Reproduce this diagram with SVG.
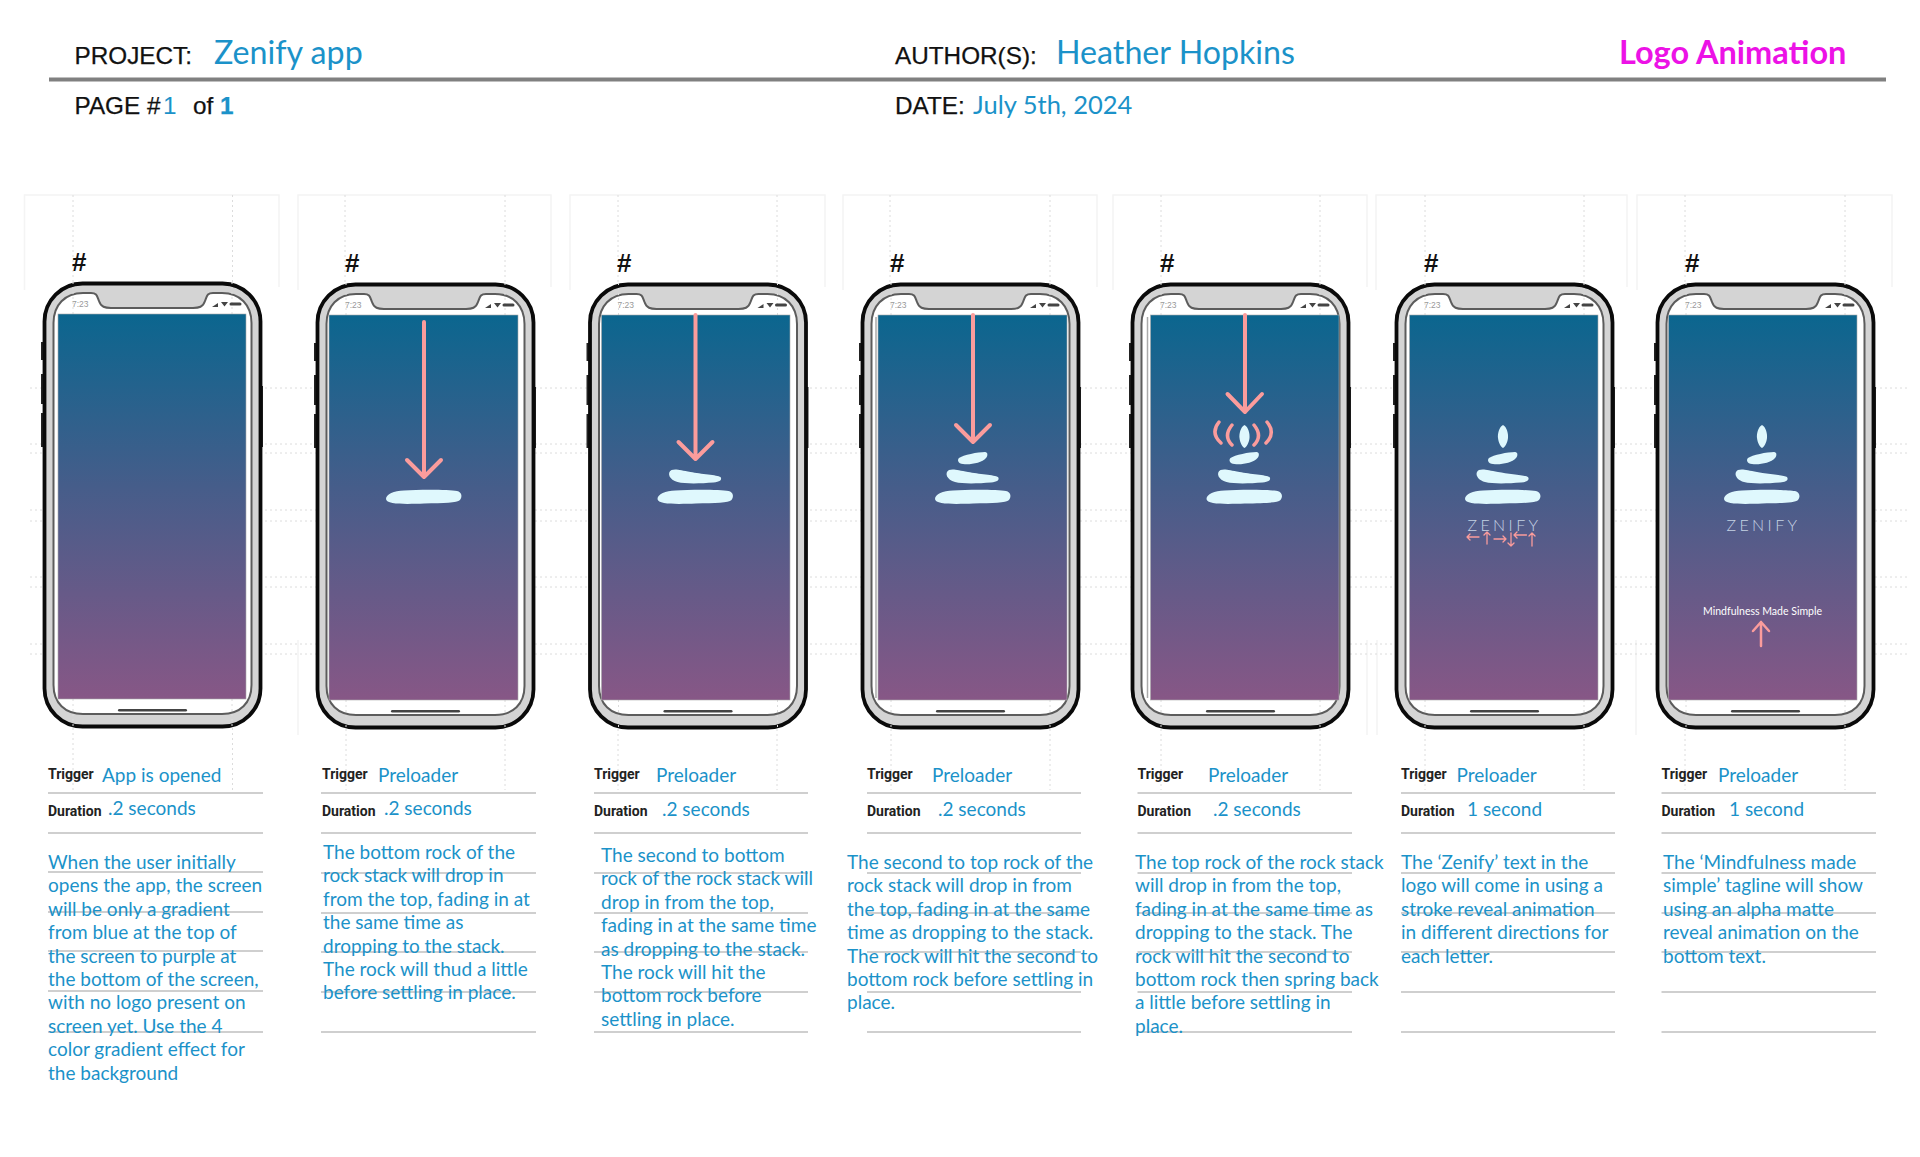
<svg xmlns="http://www.w3.org/2000/svg" xmlns:xlink="http://www.w3.org/1999/xlink" width="1920" height="1157" viewBox="0 0 1920 1157">
<style>
text{font-family:"Lato","Open Sans","Liberation Sans",sans-serif}
.head{font-family:"Liberation Sans",Arial,sans-serif;font-size:24.300px;fill:#111;stroke:#111;stroke-width:.25}
.big{font-size:32.200px;fill:#1b92c9}
.date{font-size:25.500px;fill:#1b92c9}
.val{font-size:19px;fill:#1b92c9}
.lab{font-family:"Roboto","Liberation Sans",sans-serif;font-weight:700;font-size:14px;fill:#222}
.body{font-size:19px;fill:#1b92c9}
.hash{font-family:"Liberation Sans",sans-serif;font-weight:700;font-size:26px;fill:#111}
.rule{stroke:#cfcfcf;stroke-width:2;fill:none}
.dot{stroke:#dcdcdc;stroke-width:1;stroke-dasharray:2 3;fill:none}
.box{stroke:#f4f4f4;stroke-width:1.500;fill:none}
.arrow{stroke:#fb9c9c;fill:none;stroke-linecap:round;stroke-linejoin:round}
.rock{fill:#dff8fd}
.scr{fill:url(#g);stroke:#aaa;stroke-width:.6}
.zen{font-size:16px;letter-spacing:3.400px;fill:#c5d3e4;text-anchor:middle;font-weight:300}
</style>
<defs>
<linearGradient id="g" x1="0" y1="0" x2="0" y2="1">
<stop offset="0" stop-color="#0b668f"/>
<stop offset="0.45" stop-color="#465d8a"/>
<stop offset="1" stop-color="#875786"/>
</linearGradient>
<g id="phone">
<rect x="-2" y="60" width="4" height="18" fill="#222"/>
<rect x="-2" y="92" width="4" height="30" fill="#222"/>
<rect x="-2" y="131" width="4" height="34" fill="#222"/>
<rect x="216" y="104" width="4" height="61" fill="#222"/>
<rect x="1.500" y="1.500" width="216" height="443" rx="38" fill="#d4d4d4" stroke="#0a0a0a" stroke-width="3.800"/>
<path d="M40,11H48C54,11 54,14 56,19C58,25 62,26 68,26H150C156,26 160,25 162,19C164,14 164,11 170,11H179C197,11 208.500,23 208.500,41V403C208.500,421 197,432 179,432H40C22,432 10.500,421 10.500,403V41C10.500,23 22,11 40,11Z" fill="#fff" stroke="#5c5c5c" stroke-width="2"/>
<path class="dot" d="M30,0V32M189,0V32M30,417V446M189,417V446"/>
<rect x="75" y="427" width="69" height="2.600" rx="1.300" fill="#444"/>
<text x="29" y="25" font-size="8.500" fill="#999" style="font-family:'Liberation Sans',sans-serif">7:23</text>
<path d="M169,25l6,-4v4zM178,20h7l-3.500,4.500zM188,20.500h9a1.500,1.500 0 0 1 0,3h-9a1.500,1.500 0 0 1 0,-3z" fill="#444"/>
</g>
<path id="r1" class="rock" d="M-38,499C-38,494 -30,491 -20,490.500C-5,489.500 25,489.500 33,491C38,492 38.500,497 36,500C33,503 20,503 0,503.500C-15,504 -38,505 -38,499Z"/>
<path id="r2" class="rock" d="M-24,470C-20,468.500 -15,470 -5,472C5,474 22,475 25,477C27,480 24,482 18,482.500C5,483.500 -10,484 -18,482C-26,480 -29,473 -24,470Z"/>
<path id="r3" class="rock" d="M-14,458C-10,455 5,452 12,452C15,452 15,456 13,458C9,463 -3,465 -10,464C-15,463.500 -16,460 -14,458Z"/>
<path id="r4" class="rock" d="M0,425C4,427 5.500,434 5,438C4.500,443 2,447 0,448C-2,447 -4.500,443 -5,438C-5.500,434 -4,427 0,425Z"/>
</defs>
<rect width="1920" height="1157" fill="#fff"/>

<g id="grid">
<path class="box" d="M24.500,290V195H279V287M298,290V195H551V287M570,290V195H825V287M843,290V195H1097V287M1113,290V195H1367V287M1376,290V195H1627V287M1637,290V195H1892V287"/>
<path class="box" d="M298,640V735M1367,640V735M1377,640V735M1636,640V735"/>
<path class="dot" d="M30,388H1910M30,444H1910M30,453H1910M30,510H1910M30,521H1910M30,577H1910M30,587H1910M30,644H1910M30,654H1910"/>
<path class="dot" d="M73,195V282M232.500,195V282M345,195V283M505,195V283M618,195V283M777,195V283M890,195V283M1050,195V283M1161,195V283M1320,195V283M1425,195V283M1584,195V283M1685,195V283M1845,195V283"/>
<path class="dot" d="M73,728V790M232.500,728V790M346,729V790M505,729V790M618,729V790M777,729V790M891,729V790M1050,729V790M1161,729V790M1320,729V790M1425,729V790M1584,729V790M1685,729V790M1845,729V790"/>
</g>

<g id="header">
<text class="head" x="74.500" y="64">PROJECT:</text>
<text class="big" x="214" y="64">Zenify app</text>
<text class="head" x="895" y="64">AUTHOR(S):</text>
<text class="big" x="1056" y="64">Heather Hopkins</text>
<text x="1619" y="64" font-size="32.500" font-weight="700" fill="#ec12e6">Logo Animation</text>
<rect x="49" y="77.500" width="1837" height="4" fill="#808080"/>
<text class="head" x="74.500" y="114">PAGE #<tspan fill="#1b92c9" stroke="none" x="163">1</tspan><tspan x="193">of</tspan><tspan x="220" fill="#1b92c9" stroke="#1b92c9" font-weight="700">1</tspan></text>
<text class="head" x="895" y="114">DATE:</text>
<text class="date" x="973" y="114">July 5th, 2024</text>
</g>

<g id="frame-1">
<text class="hash" x="72" y="271">#</text>
<use xlink:href="#phone" href="#phone" x="43" y="282"/>
<rect class="scr" x="58" y="314" width="188" height="385"/>
<path class="rule" d="M48,793H263M48,833H263M48,872H263M48,912H263M48,951H263M48,991H263M48,1032H263"/>
<text class="lab" x="48" y="779">Trigger</text><text class="val" x="102" y="782">App is opened</text>
<text class="lab" x="48" y="816">Duration</text><text class="val" x="108" y="815">.2 seconds</text>
<text class="body" y="869"><tspan x="48">When the user initially</tspan><tspan x="48" dy="23.400">opens the app, the screen</tspan><tspan x="48" dy="23.400">will be only a gradient</tspan><tspan x="48" dy="23.400">from blue at the top of</tspan><tspan x="48" dy="23.400">the screen to purple at</tspan><tspan x="48" dy="23.400">the bottom of the screen,</tspan><tspan x="48" dy="23.400">with no logo present on</tspan><tspan x="48" dy="23.400">screen yet. Use the 4</tspan><tspan x="48" dy="23.400">color gradient effect for</tspan><tspan x="48" dy="23.400">the background</tspan></text>
</g>

<g id="frame-2">
<text class="hash" x="345" y="272">#</text>
<use xlink:href="#phone" href="#phone" x="316" y="283"/>
<rect class="scr" x="329" y="315" width="189" height="385"/>
<path class="arrow" stroke-width="4" d="M424,322V477M407,460L424,477L441,460"/>
<use xlink:href="#r1" href="#r1" x="424"/>
<path class="rule" d="M321,793H536M321,833H536M321,873H536M321,913H536M321,952H536M321,992H536M321,1032H536"/>
<text class="lab" x="322" y="779">Trigger</text><text class="val" x="378" y="782">Preloader</text>
<text class="lab" x="322" y="816">Duration</text><text class="val" x="384" y="815">.2 seconds</text>
<text class="body" y="859"><tspan x="323">The bottom  rock of the</tspan><tspan x="323" dy="23.400">rock stack will drop in</tspan><tspan x="323" dy="23.400">from the top, fading in at</tspan><tspan x="323" dy="23.400">the same time as</tspan><tspan x="323" dy="23.400">dropping to the stack.</tspan><tspan x="323" dy="23.400">The rock will thud a little</tspan><tspan x="323" dy="23.400">before settling in place.</tspan></text>
</g>

<g id="frame-3">
<text class="hash" x="617" y="272">#</text>
<use xlink:href="#phone" href="#phone" x="588.500" y="283"/>
<rect class="scr" x="601.500" y="315" width="188.500" height="385"/>
<path class="arrow" stroke-width="4" d="M695.500,315V459M678.500,442L695.500,459L712.500,442"/>
<use xlink:href="#r1" href="#r1" x="695.500"/><use xlink:href="#r2" href="#r2" x="695.500"/>
<path class="rule" d="M594,793H808M594,833H808M594,873H808M594,913H808M594,952H808M594,992H808M594,1032H808"/>
<text class="lab" x="594" y="779">Trigger</text><text class="val" x="656" y="782">Preloader</text>
<text class="lab" x="594" y="816">Duration</text><text class="val" x="662" y="816">.2 seconds</text>
<text class="body" y="862"><tspan x="601">The second to bottom</tspan><tspan x="601" dy="23.400">rock of the rock stack will</tspan><tspan x="601" dy="23.400">drop in from the top,</tspan><tspan x="601" dy="23.400">fading in at the same time</tspan><tspan x="601" dy="23.400">as dropping to the stack.</tspan><tspan x="601" dy="23.400">The rock will hit the</tspan><tspan x="601" dy="23.400">bottom rock before</tspan><tspan x="601" dy="23.400">settling in place.</tspan></text>
</g>

<g id="frame-4">
<text class="hash" x="890" y="272">#</text>
<use xlink:href="#phone" href="#phone" x="861" y="283"/>
<path d="M876,317V698" stroke="#aaa" stroke-width="1.500" fill="none"/>
<rect class="scr" x="878" y="315" width="189" height="385"/>
<path class="arrow" stroke-width="4" d="M973,315V442M956,425L973,442L990,425"/>
<use xlink:href="#r1" href="#r1" x="973"/><use xlink:href="#r2" href="#r2" x="973"/><use xlink:href="#r3" href="#r3" x="973"/>
<path class="rule" d="M867,793H1081M867,833H1081M867,873H1081M867,913H1081M867,952H1081M867,992H1081M867,1032H1081"/>
<text class="lab" x="867" y="779">Trigger</text><text class="val" x="932" y="782">Preloader</text>
<text class="lab" x="867" y="816">Duration</text><text class="val" x="938" y="816">.2 seconds</text>
<text class="body" y="869"><tspan x="847">The second to top rock of the</tspan><tspan x="847" dy="23.400">rock stack will drop in from</tspan><tspan x="847" dy="23.400">the top, fading in at the same</tspan><tspan x="847" dy="23.400">time as dropping to the stack.</tspan><tspan x="847" dy="23.400">The rock will hit the second to</tspan><tspan x="847" dy="23.400">bottom rock before settling in</tspan><tspan x="847" dy="23.400">place.</tspan></text>
</g>

<g id="frame-5">
<text class="hash" x="1160" y="272">#</text>
<use xlink:href="#phone" href="#phone" x="1131" y="283"/>
<path d="M1147.500,317V698" stroke="#aaa" stroke-width="1.500" fill="none"/>
<rect class="scr" x="1150.500" y="315" width="188.500" height="385"/>
<path class="arrow" stroke-width="4" d="M1245,315V412M1227.500,394L1245,412L1262,394"/>
<path class="arrow" stroke-width="3.500" d="M1219,422Q1210,433 1221,443M1232,425Q1223,436 1232,445M1254,425Q1263,436 1254,445M1267,422Q1276,433 1266,443"/>
<use xlink:href="#r1" href="#r1" x="1244.500"/><use xlink:href="#r2" href="#r2" x="1244.500"/><use xlink:href="#r3" href="#r3" x="1244.500"/><use xlink:href="#r4" href="#r4" x="1244.500"/>
<path class="rule" d="M1137.500,793H1352M1137.500,833H1352M1137.500,873H1352M1137.500,913H1352M1137.500,952H1352M1137.500,992H1352M1137.500,1032H1352"/>
<text class="lab" x="1137.500" y="779">Trigger</text><text class="val" x="1208" y="782">Preloader</text>
<text class="lab" x="1137.500" y="816">Duration</text><text class="val" x="1213" y="816">.2 seconds</text>
<text class="body" y="869"><tspan x="1135">The top rock of the rock stack</tspan><tspan x="1135" dy="23.400">will drop in from the top,</tspan><tspan x="1135" dy="23.400">fading in at the same time as</tspan><tspan x="1135" dy="23.400">dropping to the stack. The</tspan><tspan x="1135" dy="23.400">rock will hit the second to</tspan><tspan x="1135" dy="23.400">bottom rock then spring back</tspan><tspan x="1135" dy="23.400">a little before settling in</tspan><tspan x="1135" dy="23.400">place.</tspan></text>
</g>

<g id="frame-6">
<text class="hash" x="1424" y="272">#</text>
<use xlink:href="#phone" href="#phone" x="1395" y="283"/>
<rect class="scr" x="1409.500" y="315" width="188.500" height="385"/>
<use xlink:href="#r1" href="#r1" x="1503"/><use xlink:href="#r2" href="#r2" x="1503"/><use xlink:href="#r3" href="#r3" x="1503"/><use xlink:href="#r4" href="#r4" x="1503"/>
<text class="zen" x="1504.500" y="531">ZENIFY</text>
<path class="arrow" stroke-width="1.300" d="M1479,537H1467M1470,534L1467,537L1470,540M1487,544V532M1484,535L1487,532L1490,535M1494,539H1506M1503,536L1506,539L1503,542M1511,533V546M1508,543L1511,546L1514,543M1526.500,535H1514M1517,532L1514,535L1517,538M1532,546V533M1529,536L1532,533L1535,536"/>
<path class="rule" d="M1401,793H1615M1401,833H1615M1401,873H1615M1401,913H1615M1401,952H1615M1401,992H1615M1401,1032H1615"/>
<text class="lab" x="1401" y="779">Trigger</text><text class="val" x="1456.500" y="782">Preloader</text>
<text class="lab" x="1401" y="816">Duration</text><text class="val" x="1467" y="816">1 second</text>
<text class="body" y="869"><tspan x="1401">The ‘Zenify’ text in the</tspan><tspan x="1401" dy="23.400">logo will come in using a</tspan><tspan x="1401" dy="23.400">stroke reveal animation</tspan><tspan x="1401" dy="23.400">in different directions for</tspan><tspan x="1401" dy="23.400">each letter.</tspan></text>
</g>

<g id="frame-7">
<text class="hash" x="1685" y="272">#</text>
<use xlink:href="#phone" href="#phone" x="1656" y="283"/>
<rect class="scr" x="1668.500" y="315" width="188.500" height="385"/>
<use xlink:href="#r1" href="#r1" x="1762"/><use xlink:href="#r2" href="#r2" x="1762"/><use xlink:href="#r3" href="#r3" x="1762"/><use xlink:href="#r4" href="#r4" x="1762"/>
<text class="zen" x="1763.500" y="531">ZENIFY</text>
<text x="1703" y="615" font-size="11.500" fill="#fff" textLength="119" lengthAdjust="spacingAndGlyphs">Mindfulness Made Simple</text>
<path class="arrow" stroke-width="2.500" d="M1761,646V622M1753,631L1761,622L1769,631"/>
<path class="rule" d="M1661.500,793H1876M1661.500,833H1876M1661.500,873H1876M1661.500,913H1876M1661.500,952H1876M1661.500,992H1876M1661.500,1032H1876"/>
<text class="lab" x="1661.500" y="779">Trigger</text><text class="val" x="1718" y="782">Preloader</text>
<text class="lab" x="1661.500" y="816">Duration</text><text class="val" x="1729" y="816">1 second</text>
<text class="body" y="869"><tspan x="1663">The ‘Mindfulness made</tspan><tspan x="1663" dy="23.400">simple’ tagline will show</tspan><tspan x="1663" dy="23.400">using an alpha matte</tspan><tspan x="1663" dy="23.400">reveal animation on the</tspan><tspan x="1663" dy="23.400">bottom text.</tspan></text>
</g>
</svg>
